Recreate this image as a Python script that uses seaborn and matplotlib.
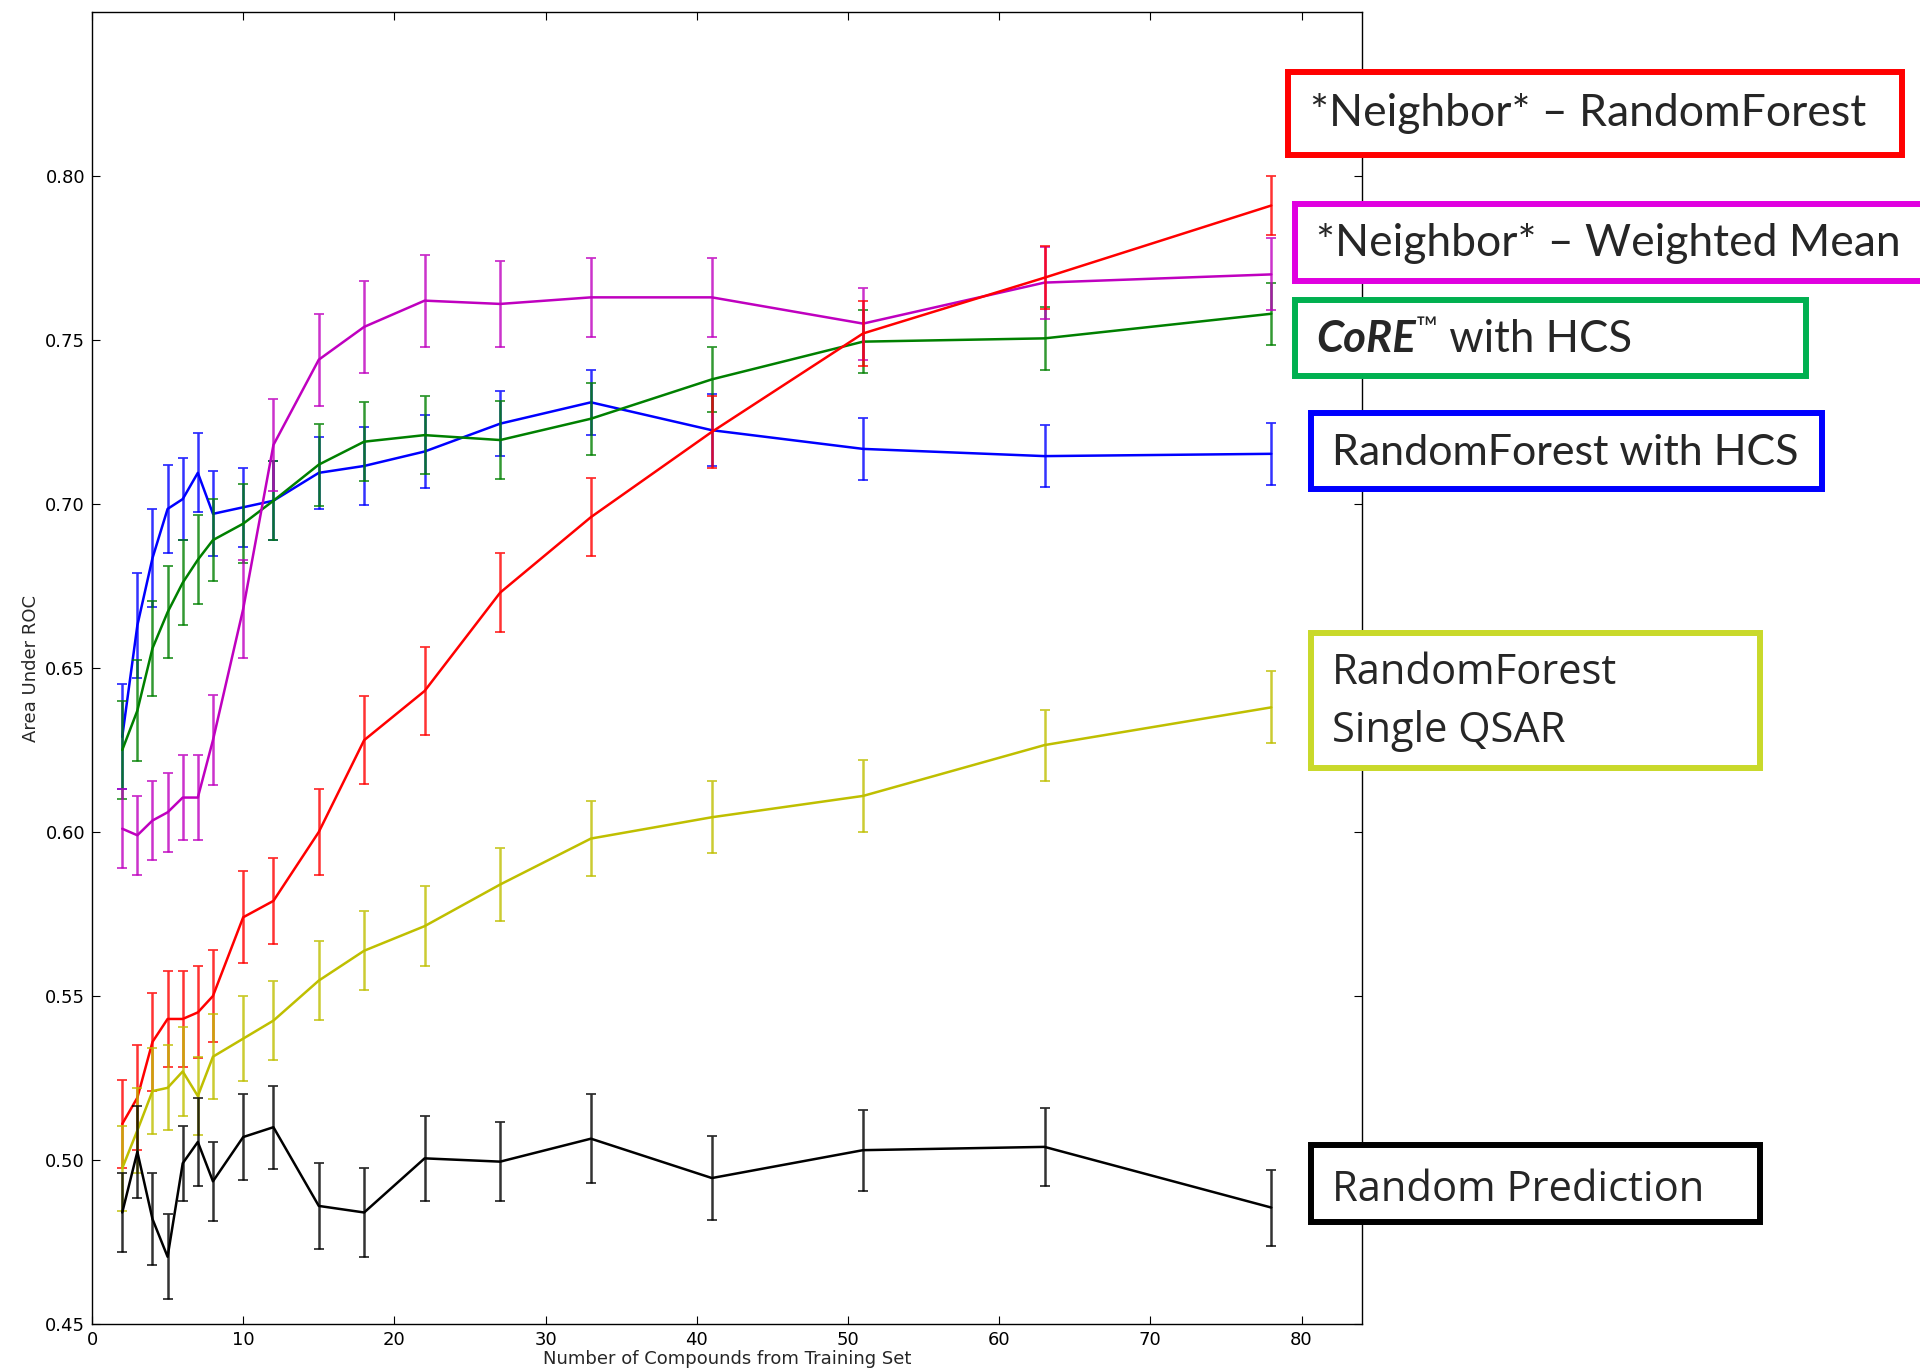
import numpy as np
import pandas as pd
import seaborn as sns
import matplotlib
matplotlib.use("Agg")
from matplotlib import pyplot as plt
from matplotlib.patches import Rectangle
from matplotlib.text import Annotation

# number of compounds taken from the training set
n_compounds = [2, 3, 4, 5, 6, 7, 8, 10, 12, 15, 18, 22, 27, 33, 41, 51, 63, 78]

# mean area under ROC and error for each model
auc_rf_hcs = [0.629, 0.663, 0.6835, 0.6985, 0.7015, 0.7095, 0.697, 0.699, 0.701, 0.7095,
              0.7116, 0.716, 0.7245, 0.731, 0.7225, 0.7168, 0.7146, 0.7153]
err_rf_hcs = [0.016, 0.016, 0.015, 0.0135, 0.0125, 0.012, 0.013, 0.012, 0.012, 0.011,
              0.0118, 0.0112, 0.010, 0.010, 0.011, 0.0095, 0.0095, 0.0095]

auc_core_hcs = [0.625, 0.637, 0.656, 0.667, 0.676, 0.683, 0.689, 0.694, 0.701, 0.712,
                0.719, 0.721, 0.7195, 0.726, 0.738, 0.7495, 0.7505, 0.758]
err_core_hcs = [0.015, 0.0155, 0.0145, 0.014, 0.013, 0.0135, 0.0125, 0.012, 0.012, 0.0125,
                0.012, 0.012, 0.012, 0.011, 0.010, 0.0095, 0.0095, 0.0095]

auc_nb_wmean = [0.601, 0.599, 0.6035, 0.606, 0.6105, 0.6105, 0.628, 0.668, 0.718, 0.744,
                0.754, 0.762, 0.761, 0.763, 0.763, 0.755, 0.7675, 0.770]
err_nb_wmean = [0.012, 0.012, 0.012, 0.012, 0.013, 0.013, 0.0137, 0.015, 0.014, 0.014,
                0.014, 0.014, 0.013, 0.012, 0.012, 0.011, 0.011, 0.011]

auc_nb_rf = [0.511, 0.519, 0.536, 0.543, 0.543, 0.545, 0.550, 0.574, 0.579, 0.600,
             0.628, 0.643, 0.673, 0.696, 0.722, 0.752, 0.769, 0.791]
err_nb_rf = [0.0135, 0.016, 0.015, 0.0145, 0.0145, 0.014, 0.014, 0.014, 0.013, 0.013,
             0.0134, 0.0134, 0.012, 0.012, 0.011, 0.010, 0.0097, 0.009]

auc_rf_single = [0.4975, 0.509, 0.521, 0.522, 0.527, 0.5195, 0.5315, 0.537, 0.5425, 0.5547,
                 0.5638, 0.5713, 0.584, 0.598, 0.6045, 0.611, 0.6265, 0.638]
err_rf_single = [0.013, 0.013, 0.013, 0.013, 0.0135, 0.012, 0.013, 0.013, 0.012, 0.012,
                 0.012, 0.0123, 0.011, 0.0115, 0.011, 0.011, 0.0108, 0.011]

auc_random = [0.484, 0.5025, 0.482, 0.4705, 0.499, 0.5055, 0.4935, 0.507, 0.510, 0.486,
              0.484, 0.5005, 0.4995, 0.5065, 0.4945, 0.503, 0.504, 0.4855]
err_random = [0.012, 0.014, 0.014, 0.013, 0.0115, 0.0135, 0.012, 0.013, 0.0127, 0.013,
              0.0135, 0.013, 0.012, 0.0135, 0.0127, 0.0123, 0.012, 0.0116]

model_names = ["RandomForest with HCS", "CoRE with HCS", "Neighbor - Weighted Mean",
               "Neighbor - RandomForest", "RandomForest Single QSAR", "Random Prediction"]
model_means = [auc_rf_hcs, auc_core_hcs, auc_nb_wmean, auc_nb_rf, auc_rf_single, auc_random]
model_errs = [err_rf_hcs, err_core_hcs, err_nb_wmean, err_nb_rf, err_rf_single, err_random]
line_colors = ["#0000ff", "#008000", "#bf00bf", "#ff0000", "#bfbf00", "#000000"]

y_ticks = [0.45, 0.50, 0.55, 0.60, 0.65, 0.70, 0.75, 0.80]
x_ticks = [0, 10, 20, 30, 40, 50, 60, 70, 80]

# text of the boxes on the right
box_red_text = "*Neighbor* \u2013 RandomForest"
box_magenta_text = "*Neighbor* \u2013 Weighted Mean"
box_green_bold = "CoRE"
box_green_tm = "\u2122"
box_green_rest = " with HCS"
box_blue_text = "RandomForest with HCS"
box_yellow_text = "RandomForest\nSingle QSAR"
box_black_text = "Random Prediction"

df = pd.DataFrame({
    "compounds": np.tile(n_compounds, len(model_names)),
    "auc": np.concatenate(model_means),
    "model": np.repeat(model_names, len(n_compounds)),
})

sns.set_style("ticks", {"xtick.direction": "in", "ytick.direction": "in"})
plt.rcParams["font.family"] = ["DejaVu Sans"]

W, H = 1920, 1371
fig = plt.figure(figsize=(W / 100, H / 100), dpi=100)
ax = fig.add_axes([92 / W, 1 - 1324 / H, (1362 - 92) / W, (1324 - 12) / H])

sns.lineplot(data=df, x="compounds", y="auc", hue="model", hue_order=model_names,
             palette=dict(zip(model_names, line_colors)), estimator=None, sort=False,
             linewidth=1.8, legend=False, ax=ax)

for i, (mean, err, col) in enumerate(zip(model_means, model_errs, line_colors)):
    ax.lines[i].set_zorder(2 + i * 0.1)
    ax.errorbar(n_compounds, mean, yerr=err, fmt="none", ecolor=col, elinewidth=1.8,
                capsize=3.5, capthick=1.3, alpha=0.8, zorder=2.05 + i * 0.1)

ax.set_xlim(0, 84)
ax.set_ylim(0.45, 0.85)
ax.set_xticks(x_ticks)
ax.set_yticks(y_ticks)
ax.set_yticklabels([f"{v:.2f}" for v in y_ticks])
ax.tick_params(top=True, right=True, length=6, width=0.8, labelsize=13, pad=5, colors="black")
for sp in ax.spines.values():
    sp.set_linewidth(1.0)
    sp.set_color("black")
ax.set_xlabel("Number of Compounds from Training Set", fontsize=13, labelpad=1)
ax.set_ylabel("Area Under ROC", fontsize=13, labelpad=4)


def add_box(x0, y0, x1, y1, color):
    fig.add_artist(Rectangle((x0 / W, 1 - y1 / H), (x1 - x0) / W, (y1 - y0) / H,
                             transform=fig.transFigure, facecolor="white",
                             edgecolor=color, linewidth=4.3, clip_on=False, zorder=2))


calibri_like = ["Lato", "DejaVu Sans"]
segoe_like = ["Open Sans", "DejaVu Sans"]

add_box(1288, 72, 1902, 155, "#ff0000")
fig.text(1310 / W, 1 - 113 / H, box_red_text, fontsize=32, family=calibri_like, va="center")

add_box(1295, 204, 1935, 281, "#e000e0")
fig.text(1316 / W, 1 - 244 / H, box_magenta_text, fontsize=32, family=calibri_like, va="center")

add_box(1295, 300, 1806, 376, "#00b050")
t_core = fig.text(1316 / W, 1 - 339 / H, box_green_bold, fontsize=31.5, family=calibri_like,
                  weight="bold", style="italic", va="center")
t_tm = fig.add_artist(Annotation(box_green_tm, xy=(1.0, 0.76), xycoords=t_core, va="center",
                                 ha="left", fontsize=21, family=calibri_like, zorder=4))
fig.add_artist(Annotation(box_green_rest, xy=(1.0, 0.5), xycoords=(t_tm, t_core), va="center",
                          ha="left", fontsize=31.5, family=calibri_like, zorder=4,
                          annotation_clip=False))

add_box(1311, 413, 1822, 489, "#0000ff")
fig.text(1332 / W, 1 - 453 / H, box_blue_text, fontsize=31, family=calibri_like, va="center")

add_box(1311, 633, 1760, 768, "#c9d92a")
fig.text(1332 / W, 1 - 702 / H, box_yellow_text, fontsize=30, family=segoe_like, va="center",
         linespacing=1.5)

add_box(1311, 1145, 1760, 1222, "#000000")
fig.text(1332 / W, 1 - 1190 / H, box_black_text, fontsize=30, family=segoe_like, va="center")

fig.savefig("out.png", dpi=100, facecolor="white")
